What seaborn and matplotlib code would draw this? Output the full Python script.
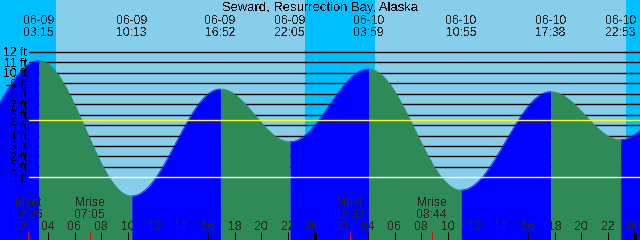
import numpy as np
import matplotlib
matplotlib.use("Agg")
import matplotlib.pyplot as plt
import seaborn as sns

# ---------------- data ----------------
title = "Seward, Resurrection Bay, Alaska"
tide_dates = ["06-09", "06-09", "06-09", "06-09", "06-10", "06-10", "06-10", "06-10"]
tide_times = ["03:15", "10:13", "16:52", "22:05", "03:59", "10:55", "17:38", "22:53"]
tide_heights = [11.17, -1.79, 8.46, 3.41, 10.37, -1.22, 8.20, 3.60]
# neighbouring extremes just outside the window (shape the curve at the edges)
edge_dates = ["06-08", "06-11"]
edge_times = ["21:20", "04:40"]
edge_heights = [3.0, 9.7]

sunset_dates = ["06-08", "06-09", "06-10"]
sunset_times = ["23:10", "23:13", "23:17"]
sunrise_dates = ["06-09", "06-10", "06-11"]
sunrise_times = ["04:32", "04:28", "04:25"]

moon_labels = ["Mset", "Mrise", "Mset", "Mrise"]
moon_dates = ["06-09", "06-09", "06-10", "06-10"]
moon_times = ["02:26", "07:05", "02:33", "08:44"]

ft_levels = list(range(0, 13))
ft_labels = [f"{v} ft" for v in ft_levels]
mean_level = 5.46
hour_ticks = list(range(2, 49, 2))
hour_labels = [f"{h % 24:02d}" for h in hour_ticks]

# ---------------- helpers ----------------
def hrs(d, t):
    day = int(d.split("-")[1]) - 9
    hh, mm = t.split(":")
    return day * 24 + int(hh) + int(mm) / 60.0

W, H = 640, 240
PX_PER_H = W / 48.0
H0 = 20 / 60.0                     # window starts 06-09 00:20
Y0PX, PX_PER_FT = 177.3, 10.44     # pixel row of 0 ft, pixels per foot

def py(p):   # pixel row -> feet
    return (Y0PX - p) / PX_PER_FT

def px(p):   # pixel column -> hours
    return H0 + p / PX_PER_H

sns.set_style("white")
plt.rcParams["font.family"] = ["Liberation Sans", "DejaVu Sans"]
plt.rcParams["text.antialiased"] = False
FS = 8.7

fig = plt.figure(figsize=(6.4, 2.4), dpi=100, facecolor="#87CEEB")
ax = fig.add_axes([0, 0, 1, 1])
ax.set_xlim(H0, H0 + 48)
ax.set_ylim(py(240), py(0))
ax.axis("off")

bottom = py(240)

# night shading
for sd, st, rd, rt in zip(sunset_dates, sunset_times, sunrise_dates, sunrise_times):
    ax.axvspan(hrs(sd, st), hrs(rd, rt), color="#00BFFF", lw=0, zorder=0)

# foot grid lines (behind water)
xmin_frac = 29.3 / W
for v in ft_levels[1:]:
    ax.axhline(v, xmin=xmin_frac, xmax=1, color="black", lw=1.0, zorder=1)

# tide curve
ext_t = [hrs(edge_dates[0], edge_times[0])] + [hrs(d, t) for d, t in zip(tide_dates, tide_times)] + [hrs(edge_dates[1], edge_times[1])]
ext_h = [edge_heights[0]] + tide_heights + [edge_heights[1]]
for i in range(len(ext_t) - 1):
    t1, t2, h1, h2 = ext_t[i], ext_t[i + 1], ext_h[i], ext_h[i + 1]
    ts = np.linspace(t1, t2, 200)
    hs = h1 + (h2 - h1) * (1 - np.cos(np.pi * (ts - t1) / (t2 - t1))) / 2
    col = "#0000FF" if h2 > h1 else "#2E8B57"
    ax.fill_between(ts, hs, bottom, color=col, lw=0, zorder=2)
    sns.lineplot(x=ts, y=hs, color=col, lw=0.5, ax=ax, zorder=2.5, sort=False)

# mean level & zero level
ax.axhline(mean_level, xmin=xmin_frac, xmax=1, color="#FFFF00", lw=1.0, zorder=4)
ax.axhline(0, xmin=xmin_frac, xmax=1, color="white", lw=1.0, zorder=4)

# small marker near 9 ft on the left
ax.plot([px(6), px(14)], [8.85, 8.85], color="black", lw=1.0, zorder=5)

# y labels
for v, lab in zip(ft_levels, ft_labels):
    ax.text(px(26.7), v - 4.4 / PX_PER_FT, lab, ha="right", va="baseline",
            fontsize=FS, color="black", zorder=6)

# title and tide event labels
ax.text(0.5, py(10.7), title, transform=ax.get_yaxis_transform(), ha="center",
        va="baseline", fontsize=9.4, color="black", zorder=6)
for d, t in zip(tide_dates, tide_times):
    h = hrs(d, t)
    ax.text(h, py(24), d, ha="center", va="baseline", fontsize=FS, zorder=6)
    ax.text(h, py(36), t, ha="center", va="baseline", fontsize=FS, zorder=6)

# hour ticks and labels
for h, lab in zip(hour_ticks, hour_labels):
    lw = 2.2 if h % 24 == 0 else 0.75
    ax.vlines(h - 1 / PX_PER_H, bottom, py(232), color="black", lw=lw, zorder=6)
    ax.text(h - 1 / PX_PER_H, py(230), lab, ha="center", va="baseline", fontsize=FS, zorder=6)

# moon events
for lab, d, t in zip(moon_labels, moon_dates, moon_times):
    h = hrs(d, t)
    ax.vlines(h, bottom, py(232), color="red", lw=0.75, zorder=6)
    ax.text(h, py(206), lab, ha="center", va="baseline", fontsize=FS, zorder=6)
    ax.text(h, py(218.3), t, ha="center", va="baseline", fontsize=FS, zorder=6)

fig.savefig("out.png", dpi=100, facecolor=fig.get_facecolor())
